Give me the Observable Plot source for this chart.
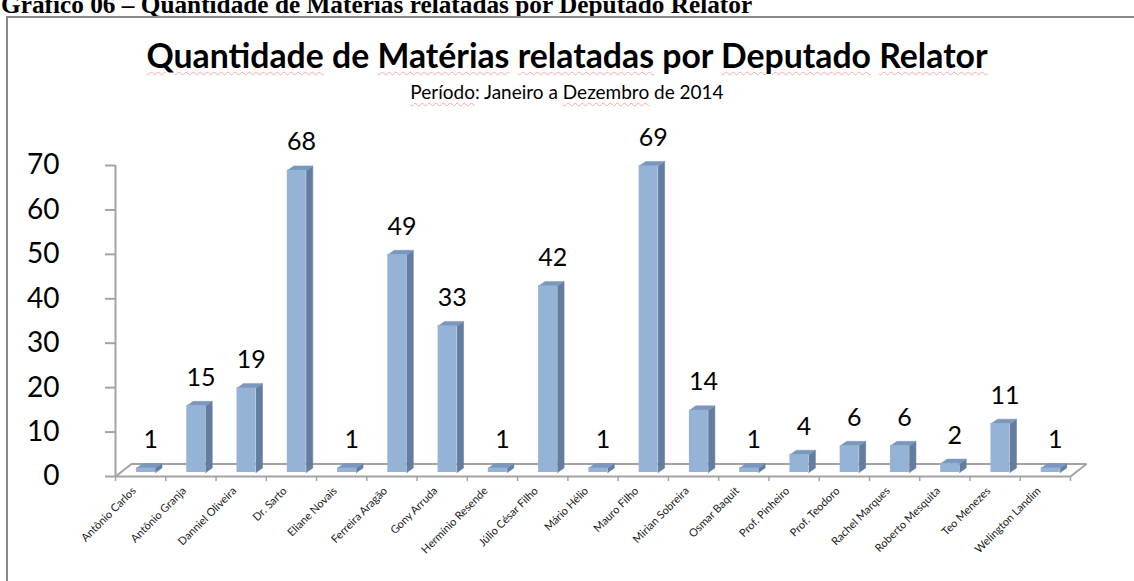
<!DOCTYPE html>
<html><head><meta charset="utf-8">
<script src="https://cdn.jsdelivr.net/npm/d3@7"></script>
<script src="https://cdn.jsdelivr.net/npm/@observablehq/plot@0.6"></script>
<style>
html,body{margin:0;padding:0;background:#fff;width:1134px;height:581px;overflow:hidden;position:relative}
.t{position:absolute;white-space:nowrap;line-height:1;color:#000}
#header{left:1px;font-family:"Liberation Serif";font-weight:bold}
#title{font-family:Lato;font-weight:bold}
#subtitle{font-family:Lato}
.sp{text-decoration:underline wavy rgba(240,90,90,0.5);text-decoration-thickness:1px;text-underline-offset:3px}
#box{position:absolute;left:6px;top:16px;width:1200px;height:700px;border:2px solid #8a8a8a;box-sizing:border-box;z-index:5;pointer-events:none}
#chart{position:absolute;left:0;top:0}
.bl{display:inline-block;width:0;height:0;vertical-align:baseline}
</style></head>
<body>
<div id="chart"></div>
<div id="box"></div>
<div id="header" class="t"></div>
<div id="title" class="t"></div>
<div id="subtitle" class="t"></div>
<script>
const names = ["Antônio Carlos","Antônio Granja","Danniel Oliveira","Dr. Sarto","Eliane Novais","Ferreira Aragão","Gony Arruda","Hermínio Resende","Júlio César Filho","Mário Hélio","Mauro Filho","Mirian Sobreira","Osmar Baquit","Prof. Pinheiro","Prof. Teodoro","Rachel Marques","Roberto Mesquita","Teo Menezes","Welington Landim"];
const counts = [1,15,19,68,1,49,33,1,42,1,69,14,1,4,6,6,2,11,1];
const yTicks = [0,10,20,30,40,50,60,70];
const headerText = "Gráfico 06 – Quantidade de Matérias relatadas por Deputado Relator";
const titleWords = [["Quantidade",true],["de",false],["Matérias",true],["relatadas",true],["por",false],["Deputado",true],["Relator",true]];
const subtitleWords = [["Período",true],[":",false],[" Janeiro a ",false],["Dezembro",true],[" de 2014",false]];

// layout (pixels)
const W = 1134, H = 581;
const X0 = 115, X1 = 1070, Y0 = 476, Y1 = 165;
const N = names.length;
const catPx = (X1 - X0) / N;
const valPx = (Y0 - Y1) / 70;
const ux = p => p / catPx, uy = p => p / valPx;
const frontL = ux(21), frontR = ux(40), lift = uy(4);
const bdx = ux(6.5), bdy = uy(4.5);
const fdx = ux(16), fdy = uy(12.5);

const bars = counts.map((v, i) => ({i, v, name: names[i]}));
const tops = [], sides = [];
bars.forEach(({i, v}) => {
  const a = i + frontL, b = i + frontR, t = lift + v;
  [[a, t], [b, t], [b + bdx, t + bdy], [a + bdx, t + bdy], [a, t]].forEach(([x, y]) => tops.push({id: i, x, y}));
  [[b, lift], [b, t], [b + bdx, t + bdy], [b + bdx, lift + bdy], [b, lift]].forEach(([x, y]) => sides.push({id: i, x, y}));
});
const floor = [[0, 0], [N, 0], [N + fdx, fdy], [fdx, fdy], [0, 0]].map(([x, y]) => ({x, y}));
const gray = "#a3a3a3";

const plot = Plot.plot({
  width: W, height: H,
  marginLeft: X0, marginRight: W - X1, marginTop: Y1, marginBottom: H - Y0,
  style: {background: "none", fontFamily: "Lato"},
  x: {type: "linear", domain: [0, N], axis: null},
  y: {type: "linear", domain: [0, 70], axis: null},
  marks: [
    Plot.line(floor, {x: "x", y: "y", stroke: gray, strokeWidth: 2, strokeLinejoin: "miter"}),
    Plot.ruleX([0], {stroke: gray, strokeWidth: 2}),
    Plot.axisY({ticks: yTicks, label: null, tickSize: 10, tickPadding: 46, stroke: gray, strokeWidth: 2, fill: "#000", fontSize: 28, fontFamily: "Lato"}),
    Plot.axisX({ticks: d3.range(N + 1), label: null, tickSize: 5, tickFormat: () => "", stroke: gray, strokeWidth: 1.5}),
    Plot.line(sides, {x: "x", y: "y", z: "id", fill: "#627d9f", stroke: "#627d9f", strokeWidth: 0.5}),
    Plot.line(tops, {x: "x", y: "y", z: "id", fill: "#7b97bd", stroke: "#7b97bd", strokeWidth: 0.5}),
    Plot.rect(bars, {x1: d => d.i + frontL, x2: d => d.i + frontR, y1: lift, y2: d => lift + d.v, fill: "#95b3d7"}),
    Plot.text(bars, {x: d => d.i + 0.5, y: d => lift + d.v, text: d => String(d.v), dx: 10, dy: -28, fontSize: 25, fontFamily: "Lato", fill: "#000"}),
    Plot.text(bars, {x: d => d.i + 0.5, frameAnchor: "bottom", text: "name", rotate: -45, textAnchor: "end", dx: -4, dy: 15, fontSize: 11, fontFamily: "Lato", fill: "#1a1a1a"})
  ]
});
document.getElementById("chart").append(plot);

function fit(text, font, target) {
  const c = document.createElement("canvas").getContext("2d");
  c.font = font.replace("SZ", "100px");
  return 100 * target / c.measureText(text).width;
}
function build(el, words, sep, underline) {
  el.innerHTML = "";
  words.forEach(([w, u], k) => {
    if (k > 0 && sep) el.append(document.createTextNode(sep));
    if (u && underline) { const s = document.createElement("span"); s.className = "sp"; s.textContent = w; el.append(s); }
    else el.append(document.createTextNode(w));
  });
  const m = document.createElement("span"); m.className = "bl"; el.append(m);
  return m;
}
function place(el, marker, baseline, centerX, leftX) {
  const r = marker.getBoundingClientRect();
  el.style.top = (parseFloat(el.style.top || 0) + baseline - r.top) + "px";
  if (centerX != null) el.style.left = (centerX - el.getBoundingClientRect().width / 2) + "px";
  if (leftX != null) el.style.left = leftX + "px";
}
const hdr = document.getElementById("header");
hdr.style.fontSize = fit(headerText, 'bold SZ "Liberation Serif"', 752) + "px";
const hm = build(hdr, [[headerText, false]], "", false);
hdr.style.top = "0px";
place(hdr, hm, 13, null, 1);

const ttl = document.getElementById("title");
const tText = titleWords.map(d => d[0]).join(" ");
ttl.style.fontSize = fit(tText, "bold SZ Lato", 842) + "px";
const tm = build(ttl, titleWords, " ", true);
ttl.style.top = "0px";
place(ttl, tm, 68, 567, null);

const sub = document.getElementById("subtitle");
const sText = subtitleWords.map(d => d[0]).join("");
sub.style.fontSize = fit(sText, "SZ Lato", 314) + "px";
const sm = build(sub, subtitleWords, "", true);
sub.style.top = "0px";
place(sub, sm, 99, 567, null);
</script>
</body></html>
